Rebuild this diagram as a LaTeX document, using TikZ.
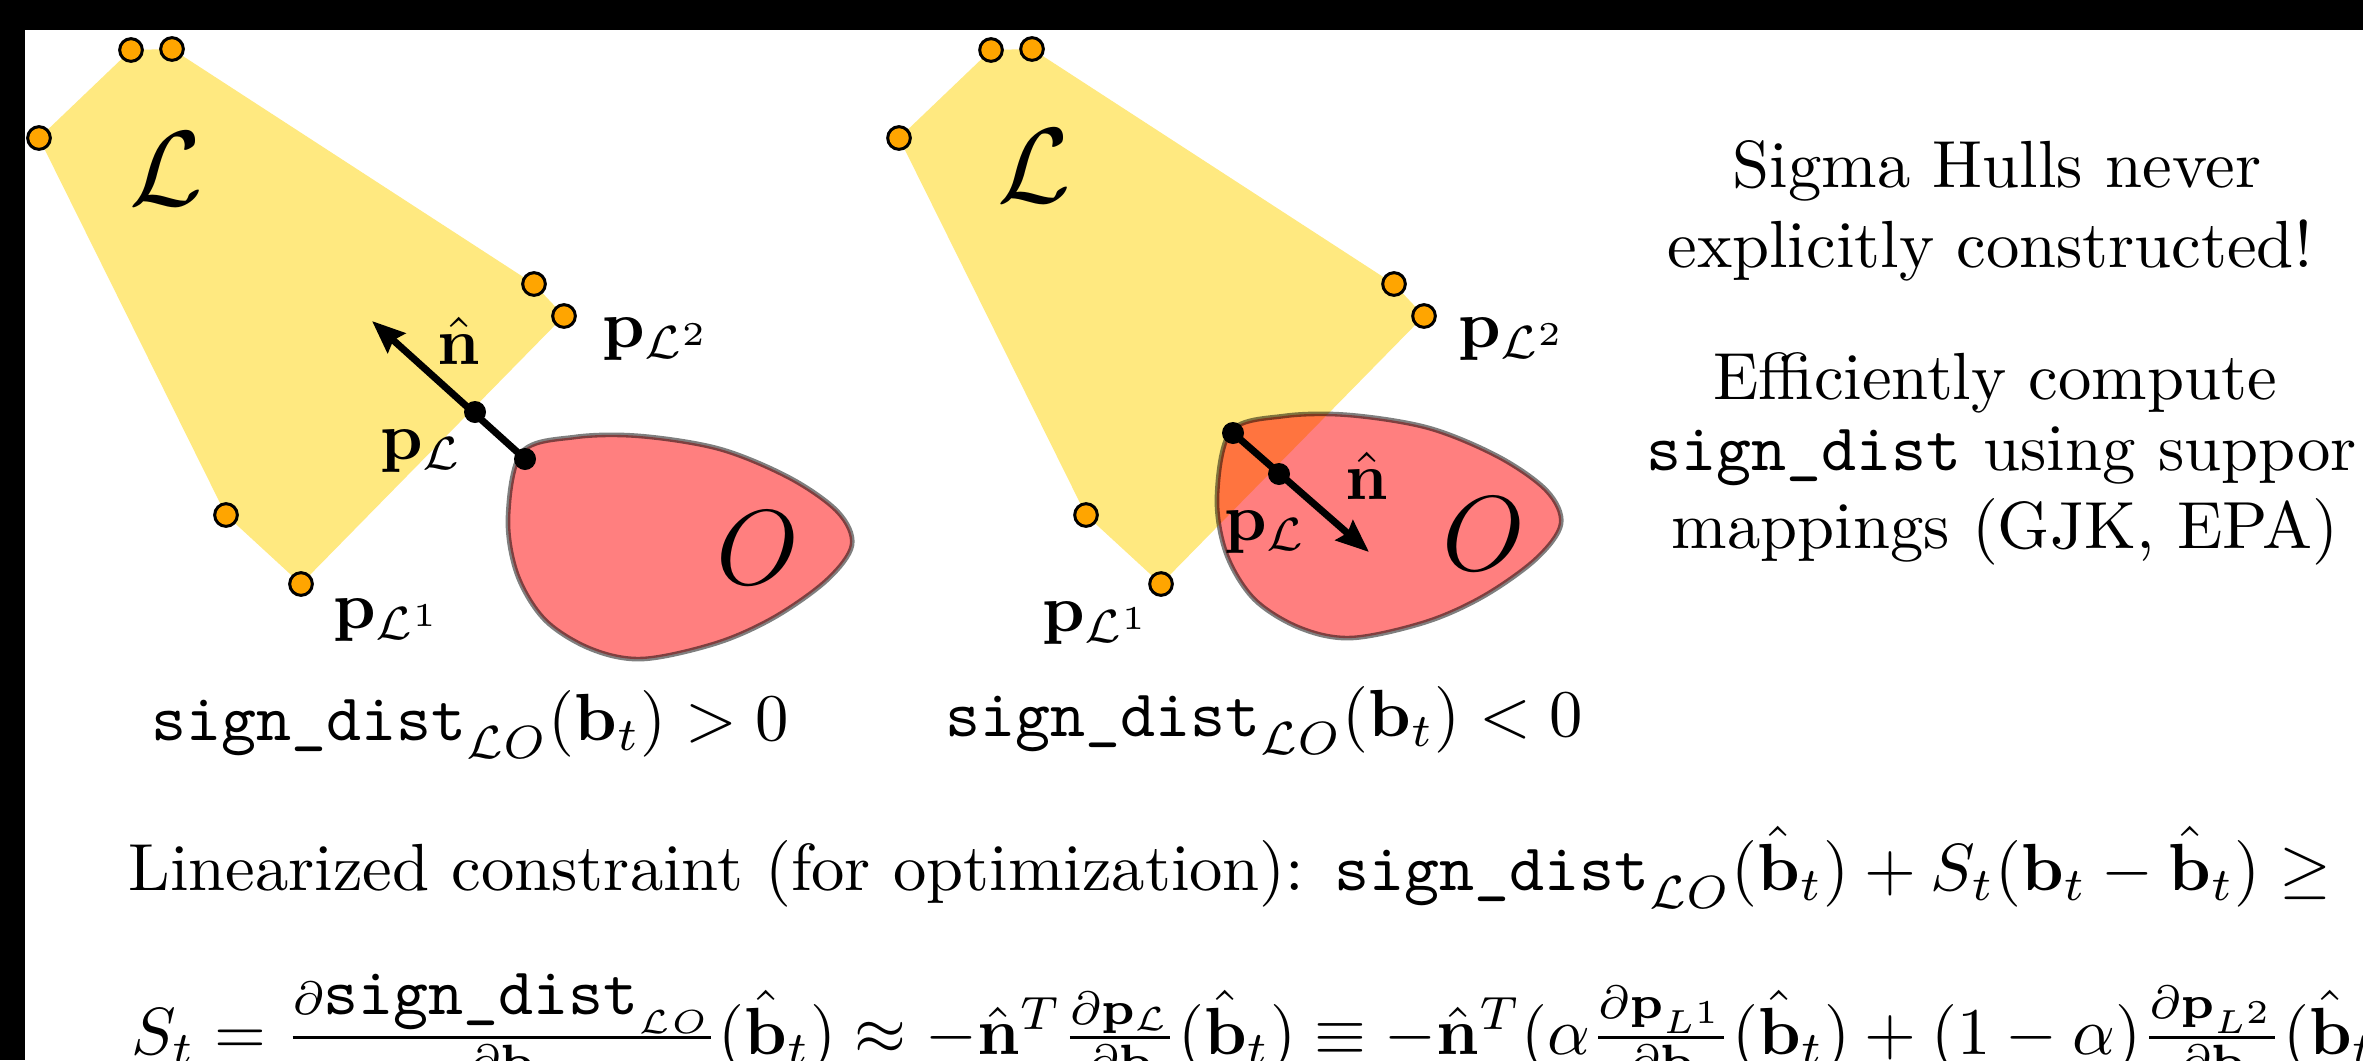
\RequirePackage{fix-cm}
\documentclass[tikz,border=0pt]{standalone}
\usetikzlibrary{arrows.meta}
\definecolor{hullyellow}{HTML}{FFE980}
\definecolor{vtxorange}{HTML}{FFA500}
\newcommand{\sdist}{\texttt{sign\_dist}}

\begin{document}
\begin{tikzpicture}[
    x=0.15pt, y=-0.15pt,
    vtx/.style={circle, draw=black, fill=vtxorange, line width=0.45pt,
                minimum size=3.4pt, inner sep=0pt},
    cdot/.style={circle, fill=black, minimum size=3.3pt, inner sep=0pt},
    obst/.style={fill=red, fill opacity=0.5, draw=black, draw opacity=0.5,
                 line width=0.7pt},
    normal/.style={line width=1.05pt,
                   -{Stealth[length=4.9pt, width=3.9pt, inset=0.6pt]}},
    lbl/.style={inner sep=0pt},
    big/.style={inner sep=0pt, font=\fontsize{16}{19}\selectfont}
  ]
    \useasboundingbox (0,0) rectangle (2363,1060);
    \clip (0,0) rectangle (2363,1060);
    \fill[white] (0,0) rectangle (2363,1060);
    \fill[black] (0,0) rectangle (2363,30);
    \fill[black] (0,0) rectangle (25,1060);

    % hull and obstacle, once per panel
    \foreach \pan/\hx/\ox/\oy in {a/0/0/0, b/860/709/-21} {
      \begin{scope}[shift={(\hx,0)}]
        \fill[hullyellow] (39,138) -- (131,50) -- (172,49) -- (534,284)
          -- (564,316) -- (301,584) -- (226,515) -- cycle;
      \end{scope}
      \begin{scope}[shift={(\ox,\oy)}]
        \draw[obst] plot[smooth cycle, tension=0.55] coordinates {
          (522,452) (575,437) (640,436) (720,449) (790,478) (838,512)
          (852,545) (827,580) (775,617) (717,643) (643,659) (591,649)
          (545,620) (517,574) (508,517)};
      \end{scope}
      \begin{scope}[shift={(\hx,0)}]
        \foreach \p [count=\k] in {(39,138), (131,50), (172,49), (534,284),
                                   (564,316), (301,584), (226,515)}
          \node[vtx] (\pan\k) at \p {};
      \end{scope}
    }

    % left panel: separated
    \coordinate (na) at (372,321);
    \draw[normal] (525,459) -- (na);
    \node[cdot] (oa) at (525,459) {};
    \node[cdot] (pa) at (475,412) {};
    \node[big] (La) at (166,169) {$\mathcal{L}$};
    \node[big] (Oa) at (758,548) {$O$};
    \node[lbl, anchor=base] (nha) at (459,364) {$\hat{\mathbf{n}}$};
    \node[lbl, anchor=base west] (pla) at (379,459) {$\mathbf{p}_{\mathcal{L}}$};
    \node[lbl, anchor=base west] (p1a) at (332,628) {$\mathbf{p}_{\mathcal{L}^1}$};
    \node[lbl, anchor=base west] (p2a) at (601,347) {$\mathbf{p}_{\mathcal{L}^2}$};
    \node[lbl, anchor=base] (sda) at (470,740)
      {$\sdist_{\mathcal{L}O}(\mathbf{b}_t) > 0$};

    % middle panel: penetrating
    \coordinate (nb) at (1369,552);
    \draw[normal] (1233,433) -- (nb);
    \node[cdot] (ob) at (1233,433) {};
    \node[cdot] (pb) at (1279,474) {};
    \node[big] (Lb) at (1034,166) {$\mathcal{L}$};
    \node[big] (Ob) at (1484,534) {$O$};
    \node[lbl, anchor=base] (nhb) at (1367,499) {$\hat{\mathbf{n}}$};
    \node[lbl, anchor=base west] (plb) at (1223,540) {$\mathbf{p}_{\mathcal{L}}$};
    \node[lbl, anchor=base west] (p1b) at (1041,631) {$\mathbf{p}_{\mathcal{L}^1}$};
    \node[lbl, anchor=base west] (p2b) at (1457,347) {$\mathbf{p}_{\mathcal{L}^2}$};
    \node[lbl, anchor=base] (sdb) at (1264,736)
      {$\sdist_{\mathcal{L}O}(\mathbf{b}_t) < 0$};

    % notes on the right
    \node[lbl, anchor=base] (sh1) at (1997,187) {Sigma Hulls never};
    \node[lbl, anchor=base] (sh2) at (1990,267) {explicitly constructed!};
    \node[lbl, anchor=base] (ef1) at (1995,399) {Efficiently compute};
    \node[lbl, anchor=base west] (ef2) at (1645,470) {\sdist{} using suppor};
    \node[lbl, anchor=base] (ef3) at (2005,548) {mappings (GJK, EPA)};

    % linearization
    \node[lbl, anchor=base west] (lin) at (127,890)
      {Linearized constraint (for optimization):
       $\sdist_{\mathcal{L}O}(\hat{\mathbf{b}}_t)
        + S_t(\mathbf{b}_t - \hat{\mathbf{b}}_t) \geq$};
    \node[lbl, anchor=base west] (grad) at (130,1054)
      {$S_t = \frac{\partial\sdist_{\mathcal{L}O}}{\partial\mathbf{b}}(\hat{\mathbf{b}}_t)
        \approx -\hat{\mathbf{n}}^T\frac{\partial\mathbf{p}_{\mathcal{L}}}{\partial\mathbf{b}}(\hat{\mathbf{b}}_t)
        \equiv -\hat{\mathbf{n}}^T(\alpha\frac{\partial\mathbf{p}_{L^1}}{\partial\mathbf{b}}(\hat{\mathbf{b}}_t)
        + (1-\alpha)\frac{\partial\mathbf{p}_{L^2}}{\partial\mathbf{b}}(\hat{\mathbf{b}}_t$};
\end{tikzpicture}
\end{document}
